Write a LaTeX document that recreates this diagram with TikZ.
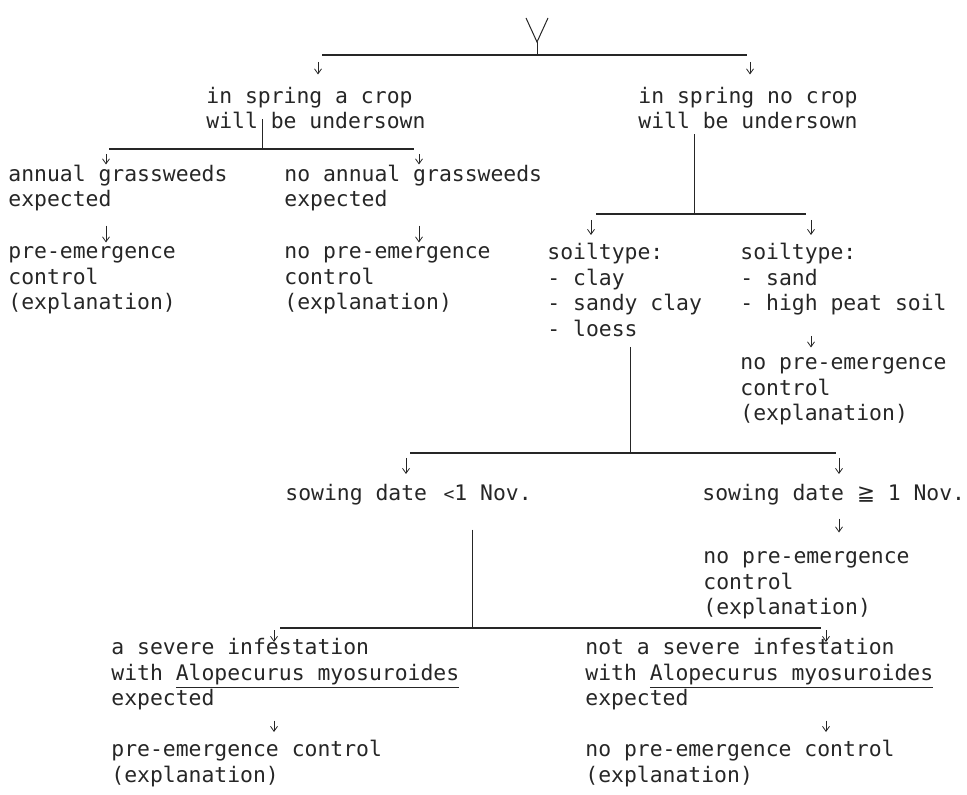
\documentclass[tikz,border=0pt]{standalone}
\usepackage{fontspec}
\setmonofont{DejaVu Sans Mono}
\newfontfamily\symbfont{DejaVu Sans}
\usetikzlibrary{arrows.meta, calc}

\begin{document}
\begin{tikzpicture}[x=0.5pt, y=-0.5pt, black!85,
    box/.style={anchor=north west, inner sep=0pt, align=left, text=black!85,
        font=\ttfamily\fontsize{10.7}{12.75}\selectfont},
    arr/.style={-{Straight Barb[length=2.5pt,width=3.5pt]}, line width=0.4pt},
    bar/.style={line width=0.9pt},
    stem/.style={line width=0.5pt}]
    \useasboundingbox (0,0) rectangle (967,795);

    % root symbol
    \coordinate (root) at (537,42);
    \draw[stem] (526,18) -- (root) -- (548,18);
    \coordinate (j1) at (537,55);
    \draw[stem] (root) -- (j1);
    \draw[bar] (322,55) -- (747,55);

    % first level
    \node[box] (crop) at (206,86.5) {in spring a crop\\will be undersown};
    \node[box] (nocrop) at (638,86.5) {in spring no crop\\will be undersown};
    \draw[arr, shorten <=3.5pt, shorten >=6pt] (j1 -| 318,0) -- (crop.north -| 318,0);
    \draw[arr, shorten <=3.5pt, shorten >=6pt] (j1 -| 750,0) -- (nocrop.north -| 750,0);

    % undersown crop
    \coordinate (j2) at (262,149);
    \draw[stem] ($(crop.south -| 262,0)+(0,-10)$) -- (j2);
    \draw[bar] (109,149) -- (414,149);
    \node[box] (grass) at (8,164.5) {annual grassweeds\\expected};
    \node[box] (nograss) at (284,164.5) {no annual grassweeds\\expected};
    \draw[arr, shorten <=2.5pt, shorten >=0pt] (j2 -| 106,0) -- (grass.north -| 106,0);
    \draw[arr, shorten <=2.5pt, shorten >=0pt] (j2 -| 419,0) -- (nograss.north -| 419,0);
    \node[box] (pre1) at (8,246.5) {pre-emergence\\control\\(explanation)};
    \node[box] (nopre1) at (284,246.5) {no pre-emergence\\control\\(explanation)};
    \draw[arr, shorten <=7pt, shorten >=2pt] (grass.south -| 106,0) -- (pre1.north -| 106,0);
    \draw[arr, shorten <=7pt, shorten >=2pt] (nograss.south -| 419,0) -- (nopre1.north -| 419,0);

    % no undersown crop: soil type
    \coordinate (j3) at (694,214);
    \draw[stem, shorten <=2.5pt] (nocrop.south -| 694,0) -- (j3);
    \draw[bar] (596,214) -- (806,214);
    \node[box] (heavy) at (547,243) {soiltype:\\- clay\\- sandy clay\\- loess};
    \node[box] (light) at (740,243) {soiltype:\\- sand\\- high peat soil};
    \draw[arr, shorten <=3pt, shorten >=4pt] (j3 -| 591,0) -- (heavy.north -| 591,0);
    \draw[arr, shorten <=3pt, shorten >=4pt] (j3 -| 811,0) -- (light.north -| 811,0);
    \node[box] (nopre2) at (740,357.5) {no pre-emergence\\control\\(explanation)};
    \draw[arr, shorten <=10pt, shorten >=5pt] (light.south -| 811,0) -- (nopre2.north -| 811,0);

    % sowing date
    \coordinate (j4) at (630,453);
    \draw[stem, shorten <=5pt] (heavy.south -| 630,0) -- (j4);
    \draw[bar] (410,453) -- (836,453);
    \node[box] (early) at (285,484) {sowing date \,{\small<}1 Nov.};
    \node[box] (late) at (702,484) {sowing date {\symbfont ≧} 1 Nov.};
    \draw[arr, shorten <=2.5pt, shorten >=5pt] (j4 -| 406,0) -- (early.north -| 406,0);
    \draw[arr, shorten <=2.5pt, shorten >=5pt] (j4 -| 839,0) -- (late.north -| 839,0);
    \node[box] (nopre3) at (703,551.5) {no pre-emergence\\control\\(explanation)};
    \draw[arr, shorten <=6.5pt, shorten >=9.5pt] (late.south -| 839,0) -- (nopre3.north -| 839,0);

    % infestation
    \coordinate (j5) at (472,628);
    \draw[stem, shorten <=12pt] (early.south -| 472,0) -- (j5);
    \draw[bar] (280,628) -- (821,628);
    \node[box] (severe) at (111,638) {a severe infestation\\with \underline{Alopecurus myosuroides}\\expected};
    \node[box] (notsevere) at (585,638) {not a severe infestation\\with \underline{Alopecurus myosuroides}\\expected};
    \draw[arr, shorten <=1pt, shorten >=-2pt] (j5 -| 274,0) -- (severe.north -| 274,0);
    \draw[arr, shorten <=1pt, shorten >=-2pt] (j5 -| 826,0) -- (notsevere.north -| 826,0);
    \node[box] (pre2) at (111,740) {pre-emergence control\\(explanation)};
    \node[box] (nopre4) at (585,740) {no pre-emergence control\\(explanation)};
    \draw[arr, shorten <=5pt, shorten >=4pt] (severe.south -| 274,0) -- (pre2.north -| 274,0);
    \draw[arr, shorten <=5pt, shorten >=4pt] (notsevere.south -| 826,0) -- (nopre4.north -| 826,0);
\end{tikzpicture}
\end{document}
